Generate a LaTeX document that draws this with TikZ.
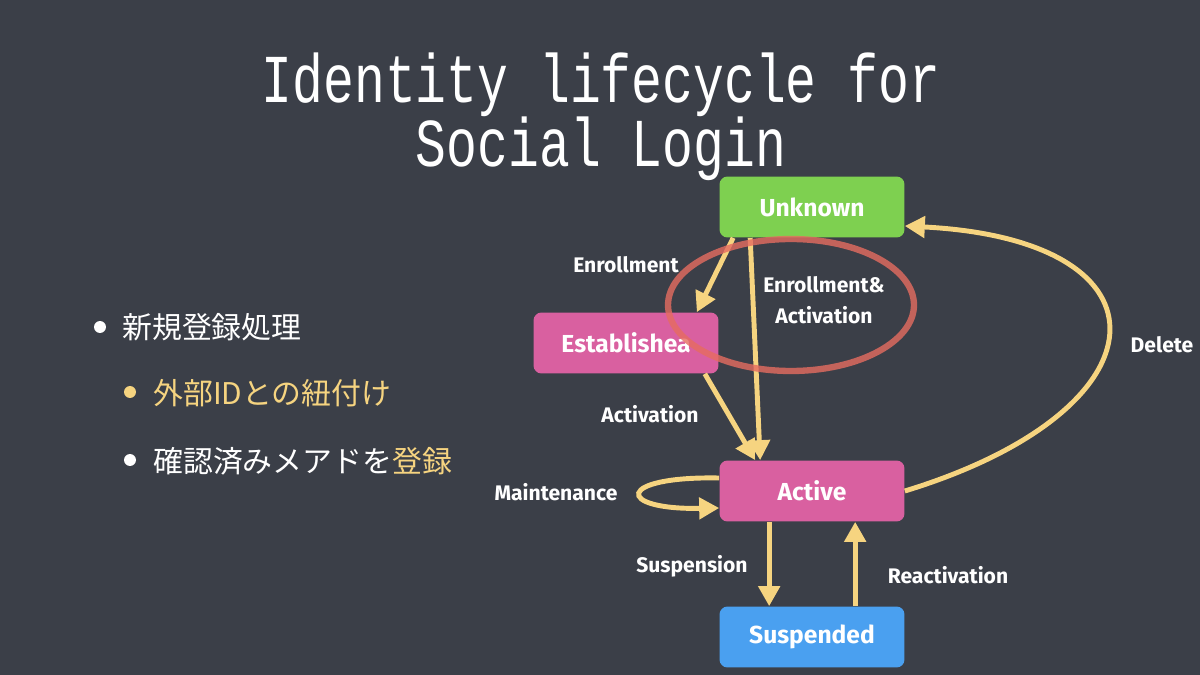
\documentclass[tikz,border=0pt]{standalone}
\usepackage{fontspec}
\usepackage{graphicx}
\newfontfamily\jpfont{Noto Sans CJK JP}
\newfontfamily\titlefont{Liberation Mono}
\newfontfamily\boxfont{Fira Sans}
\usetikzlibrary{arrows.meta,calc}

\definecolor{board}{RGB}{59,63,72}
\definecolor{chalkyellow}{RGB}{246,212,128}
\definecolor{chalkred}{RGB}{230,108,96}
\definecolor{stategreen}{RGB}{126,208,80}
\definecolor{statepink}{RGB}{217,96,160}
\definecolor{stateblue}{RGB}{74,160,240}

\begin{document}
\begin{tikzpicture}[x=0.02cm,y=-0.02cm,
    state/.style={rounded corners=0.16cm,minimum width=3.7cm,minimum height=1.22cm,
      text=white,font=\boxfont\bfseries\fontsize{14}{16}\selectfont},
    edgelabel/.style={text=white,align=center,font=\boxfont\bfseries\fontsize{12}{17.6}\selectfont},
    trans/.style={chalkyellow,line width=2.8pt,-{Triangle[length=0.4cm,width=0.42cm]}},
    bulletline/.style={anchor=base west,inner sep=0pt,font=\jpfont\fontsize{17}{20}\selectfont}]
  % board
  \fill[board] (0,0) rectangle (1200,675);
  \useasboundingbox (0,0) rectangle (1200,675);

  % title
  \node[anchor=base,text=white,inner sep=0pt] (title) at (601,103)
    {\scalebox{0.75}[1]{\titlefont\fontsize{39}{33.6}\selectfont
      \begin{tabular}[t]{@{}c@{}}Identity lifecycle for\\[-2.4pt]Social Login\end{tabular}}};

  % bullets
  \fill[white] (100,327) circle (0.12cm);
  \node[bulletline,text=white] (item1) at (122,339) {新規登録処理};
  \fill[chalkyellow] (130,392) circle (0.12cm);
  \node[bulletline,text=chalkyellow] (item2) at (153,404) {外部IDとの紐付け};
  \fill[white] (130,460) circle (0.12cm);
  \node[bulletline,text=white] (item3) at (153,472) {確認済みメアドを\textcolor{chalkyellow}{登録}};

  % states
  \node[state,fill=stategreen] (unknown) at (812,207) {Unknown};
  \node[state,fill=statepink] (established) at (626,343) {Establishea};
  \node[state,fill=statepink] (active) at (812,491) {Active};
  \node[state,fill=stateblue] (suspended) at (812,637) {Suspended};

  % transitions
  \draw[trans] ($(unknown.south west)+(14,0)$) -- ($(established.north east)+(-22,0)$);
  \draw[trans] ($(unknown.south west)+(31,0)$) -- ($(active.north west)+(41,0)$);
  \draw[trans] ($(established.south east)+(-14,0)$) -- ($(active.north west)+(36,0)$);
  \draw[trans] ($(active.west)+(0,-13)$) .. controls (615,476) and (615,510) .. ($(active.west)+(0,17)$);
  \draw[trans] ($(active.south west)+(50,0)$) -- ($(suspended.north west)+(50,0)$);
  \draw[trans] ($(suspended.north west)+(136,0)$) -- ($(active.south west)+(136,0)$);
  \draw[trans] (active.east) .. controls (1170,410) and (1180,240) .. ($(unknown.east)+(0,19)$);

  % labels
  \node[edgelabel] (lenroll) at (626,265) {Enrollment};
  \node[edgelabel] (lenrollact) at (824,300) {Enrollment\&\\Activation};
  \node[edgelabel] (lactivate) at (650,414) {Activation};
  \node[edgelabel] (lmaint) at (556,492) {Maintenance};
  \node[edgelabel] (lsuspend) at (692,566) {Suspension};
  \node[edgelabel] (lreact) at (948,575) {Reactivation};
  \node[edgelabel] (ldelete) at (1162,345) {Delete};

  % chalk circle
  \draw[chalkred,line width=3.6pt,opacity=.8] (791,305) ellipse [x radius=2.46cm,y radius=1.32cm];
\end{tikzpicture}
\end{document}
